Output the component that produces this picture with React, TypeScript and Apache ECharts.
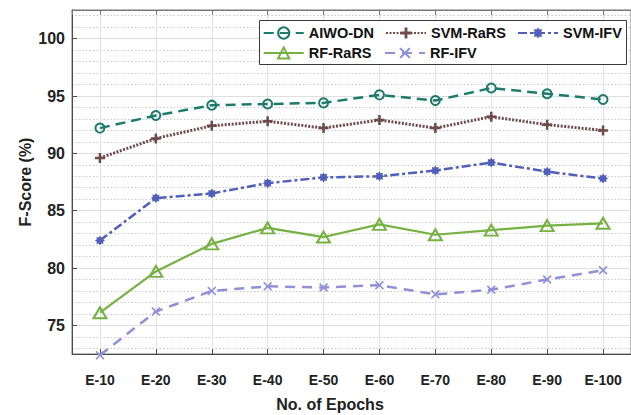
import React, { useEffect, useRef } from "react";
import * as echarts from "echarts";

const categories = ["E-10", "E-20", "E-30", "E-40", "E-50", "E-60", "E-70", "E-80", "E-90", "E-100"];
const aiwoDn = [92.2, 93.3, 94.2, 94.3, 94.4, 95.1, 94.6, 95.7, 95.2, 94.7];
const svmRaRS = [89.6, 91.3, 92.4, 92.8, 92.2, 92.9, 92.2, 93.2, 92.5, 92.0];
const svmIFV = [82.4, 86.1, 86.5, 87.4, 87.9, 88.0, 88.5, 89.2, 88.4, 87.8];
const rfRaRS = [76.1, 79.7, 82.1, 83.5, 82.7, 83.8, 82.9, 83.3, 83.7, 83.9];
const rfIFV = [72.4, 76.2, 78.0, 78.4, 78.3, 78.5, 77.7, 78.1, 79.0, 79.8];
const seriesNames = ["AIWO-DN", "SVM-RaRS", "SVM-IFV", "RF-RaRS", "RF-IFV"];
const yMin = 72.5;
const yMax = 102.5;

const FONT = "'Liberation Sans', Arial, Helvetica, sans-serif";

const PLUS = "path://M3.75,0H6.25V3.75H10V6.25H6.25V10H3.75V6.25H0V3.75H3.75Z";
const CROSS = "path://M0,1.3L1.3,0L5,3.7L8.7,0L10,1.3L6.3,5L10,8.7L8.7,10L5,6.3L1.3,10L0,8.7L3.7,5Z";
const STAR = "path://M10,5L8.05,6.26L8.54,8.54L6.26,8.05L5,10L3.74,8.05L1.46,8.54L1.95,6.26L0,5L1.95,3.74L1.46,1.46L3.74,1.95L5,0L6.26,1.95L8.54,1.46L8.05,3.74Z";

const toPts = (arr: number[]) => arr.map((v, i) => [i + 1, v]);

export default function App() {
  const ref = useRef<HTMLDivElement>(null);
  useEffect(() => {
    if (!ref.current) return;
    const chart = echarts.init(ref.current, undefined, { renderer: "svg" });
    const teal = "#1c7c6b";
    const brown = "#6d4b4b";
    const blue = "#5060ba";
    const green = "#76b143";
    const lilac = "#8f90d8";
    const axisColor = "#4a4a4a";
    const legendText = { fontFamily: FONT, fontWeight: "bold" as const, fontSize: 14.5, color: "#111", lineHeight: 18 };
    const legendSlots = [
      { left: 262.7, top: 24 },
      { left: 385, top: 24 },
      { left: 517, top: 24 },
      { left: 262.7, top: 44 },
      { left: 384, top: 44 },
    ];
    chart.setOption({
      animation: false,
      backgroundColor: "#fff",
      grid: { left: 72, top: 10, right: -6, bottom: 61, show: true, borderColor: "#777", borderWidth: 1 },
      xAxis: [
        {
          type: "value",
          min: 0.5,
          max: 10.5,
          splitNumber: 10,
          axisLine: { show: true, lineStyle: { color: axisColor, width: 1 } },
          axisTick: { show: true, inside: true, length: 5, lineStyle: { color: axisColor } },
          axisLabel: {
            show: true,
            margin: 19,
            showMinLabel: false,
            showMaxLabel: false,
            fontFamily: FONT,
            fontWeight: "bold",
            fontSize: 14,
            color: "#222",
            formatter: (v: number) => (Number.isInteger(v) ? categories[v - 1] ?? "" : ""),
          },
          splitLine: { show: true, lineStyle: { color: "#e2e2e2", width: 1 } },
        },
        {
          type: "value",
          position: "top",
          min: 0.5,
          max: 10.5,
          splitNumber: 10,
          axisLine: { show: true, lineStyle: { color: "#777", width: 1 } },
          axisTick: { show: true, inside: true, length: 5, lineStyle: { color: "#777" } },
          axisLabel: { show: false },
          splitLine: { show: false },
        },
      ],
      yAxis: {
        type: "value",
        min: yMin,
        max: yMax,
        splitNumber: 6,
        name: "F-Score (%)",
        nameLocation: "middle",
        nameGap: 39,
        nameMoveOverlap: false,
        nameTextStyle: { fontFamily: FONT, fontWeight: "bold", fontSize: 16, color: "#222" },
        axisLine: { show: true, lineStyle: { color: axisColor, width: 1 } },
        axisTick: { show: true, inside: true, length: 5, lineStyle: { color: axisColor } },
        axisLabel: {
          margin: 7,
          showMinLabel: false,
          showMaxLabel: false,
          fontFamily: FONT,
          fontWeight: "bold",
          fontSize: 16,
          color: "#222",
        },
        splitLine: { show: true, lineStyle: { color: "#dedede", width: 1 } },
        minorTick: { show: false, splitNumber: 5 },
        minorSplitLine: { show: true, lineStyle: { color: "#c9c9c9", width: 1, type: [1.5, 2] } },
      },
      legend: seriesNames.map((n, i) => ({
        data: [n],
        left: legendSlots[i].left,
        top: legendSlots[i].top,
        padding: 0,
        itemWidth: 40,
        itemHeight: 14,
        itemGap: 0,
        selectedMode: false,
        textStyle: legendText,
        z: 5,
      })),
      graphic: [
        {
          type: "rect",
          z: 3,
          shape: { x: 259.5, y: 20.5, width: 367, height: 44 },
          style: { fill: "#fff", stroke: "#3a3a3a", lineWidth: 1 },
        },
        {
          type: "text",
          x: 330,
          y: 404,
          style: {
            text: "No. of Epochs",
            fontFamily: FONT,
            fontWeight: "bold",
            fontSize: 16,
            fill: "#222",
            textAlign: "center",
            textVerticalAlign: "middle",
          },
        },
      ],
      series: [
        {
          name: seriesNames[0],
          type: "line",
          data: toPts(aiwoDn),
          symbol: "circle",
          symbolSize: 9,
          lineStyle: { color: teal, width: 2.5, type: [10, 6] },
          itemStyle: { color: "rgba(255,255,255,0)", borderColor: teal, borderWidth: 2 },
          z: 6,
        },
        {
          name: seriesNames[1],
          type: "line",
          data: toPts(svmRaRS),
          symbol: PLUS,
          symbolSize: 10,
          lineStyle: { color: brown, width: 3, type: [2, 1.5] },
          itemStyle: { color: brown },
          z: 5,
        },
        {
          name: seriesNames[2],
          type: "line",
          data: toPts(svmIFV),
          symbol: STAR,
          symbolSize: 10,
          lineStyle: { color: blue, width: 2.5, type: [9, 3, 3, 3] },
          itemStyle: { color: blue },
          z: 4,
        },
        {
          name: seriesNames[3],
          type: "line",
          data: toPts(rfRaRS),
          symbol: "triangle",
          symbolSize: [13, 11],
          lineStyle: { color: green, width: 2.2, type: "solid" },
          itemStyle: { color: "rgba(255,255,255,0)", borderColor: green, borderWidth: 2 },
          z: 3,
        },
        {
          name: seriesNames[4],
          type: "line",
          data: toPts(rfIFV),
          symbol: CROSS,
          symbolSize: 9,
          clip: false,
          lineStyle: { color: lilac, width: 2.5, type: [10, 7] },
          itemStyle: { color: lilac },
          z: 2,
        },
      ],
    });
    return () => chart.dispose();
  }, []);
  return (
    <div
      ref={ref}
      style={{ position: "fixed", left: 0, top: 0, width: 631, height: 415, background: "#fff" }}
    />
  );
}
